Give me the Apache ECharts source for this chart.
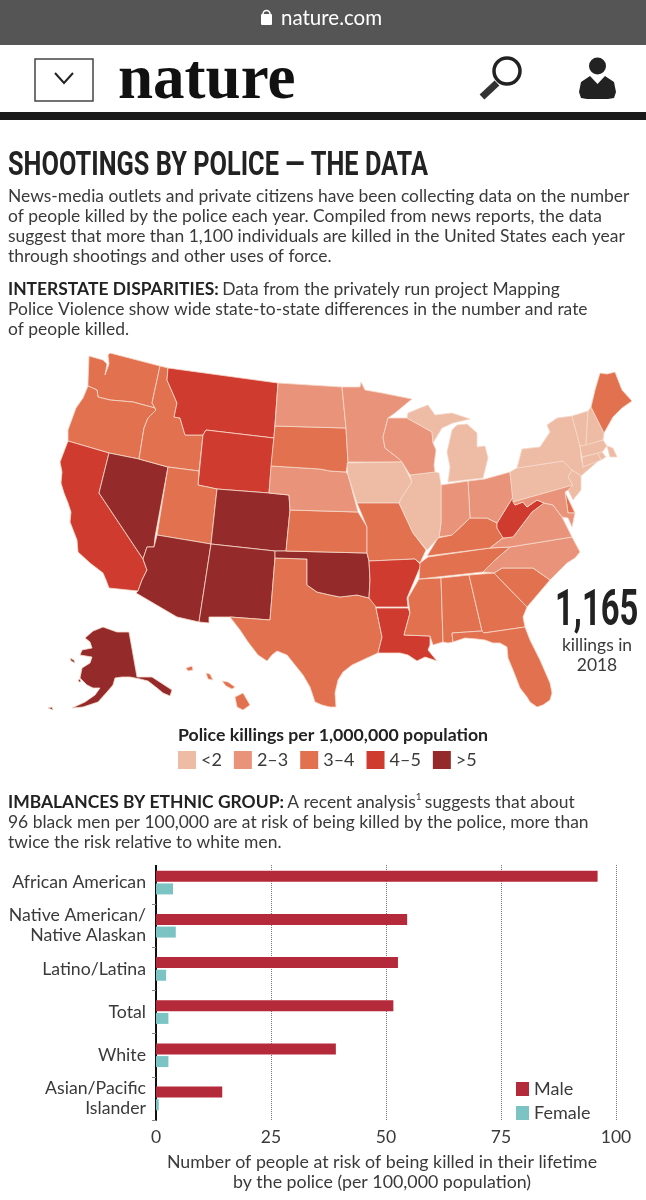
<!DOCTYPE html>
<html><head><meta charset="utf-8">
<style>html,body{margin:0;padding:0;background:#fff}#c{width:646px;height:1200px}</style>
<script src="https://cdn.jsdelivr.net/npm/echarts@6/dist/echarts.min.js"></script>
</head><body><div id="c"></div>
<script>
// ---------- data ----------
const classLabels = ['<2','2–3','3–4','4–5','>5'];
const classColors = ['#eebba4','#e9937a','#e2714f','#cf3b2e','#952a2a'];
const statesBelow2 = ['IA','IL','MI','PA','NY','NJ','VT','NH','MA','CT','RI'];
const states2to3 = ['ND','NE','MN','WI','IN','OH','VA','NC','MD'];
const states3to4 = ['WA','OR','ID','UT','HI','TX','KS','SD','MO','KY','TN','MS','AL','GA','FL','SC','ME','DE'];
const states4to5 = ['CA','MT','WY','AR','LA','WV'];
const statesAbove5 = ['AK','NV','AZ','NM','CO','OK'];

const groups = ['African American','Native American/\nNative Alaskan','Latino/Latina','Total','White','Asian/Pacific\nIslander'];
const maleRisk = [96,54.6,52.6,51.6,39.1,14.4];
const femaleRisk = [3.7,4.3,2.2,2.7,2.7,0.6];
const riskTicks = [0,25,50,75,100];

// base-map outlines (registered as a map, coloured through the series data)
const outlines = {
WA:['89,356 103,360 107,364 105,375 109,364 108,355 110,353 160,366 152,403 155,408 133,402 110,400 98,397 97,390 88,386 88,382'],
OR:['88,386 97,390 98,397 110,400 133,402 155,408 156,410 148,418 144,428 139,459 109,453 68,441 68,430 76,408 83,398'],
CA:['68,441 109,453 99,493 143,559 147,570 142,580 138,591 109,588 106,580 103,573 90,563 78,552 77,540 70,522 71,512 68,503 64,493 61,483 62,472 60,462'],
NV:['109,453 139,459 168,467 155,537 154,547 147,547 143,559 99,493'],
ID:['160,366 168,368 167,380 177,403 174,417 180,418 185,435 203,435 199,471 168,467 139,459 144,428 148,418 156,410 155,408 152,403'],
MT:['168,368 278,383 274,438 206,430 203,435 185,435 180,418 174,417 177,403 167,380'],
WY:['206,430 274,438 269,493 217,489 198,485 203,435'],
UT:['168,467 199,471 198,485 217,489 211,544 157,535'],
CO:['217,489 269,493 289,495 290,510 286,551 275,551 211,544'],
AZ:['157,535 211,544 199,622 177,617 136,593 138,591 142,580 147,570 143,559 147,547 154,547'],
NM:['211,544 275,551 275,558 270,620 230,617 209,617 209,623 199,622'],
TX:['275,558 307,559 307,585 317,592 330,595 340,597 357,595 369,598 374,602 376,608 382,637 378,653 367,658 352,665 343,672 338,680 335,693 336,707 330,707 322,705 315,702 312,693 310,687 303,675 295,665 287,655 277,651 272,655 267,661 258,655 248,642 240,630 230,617 270,620'],
OK:['275,551 286,551 367,553 369,561 370,580 369,598 357,595 340,597 330,595 317,592 307,585 307,559 275,558'],
KS:['290,510 358,512 367,527 367,553 286,551'],
NE:['271,466 320,469 330,471 346,472 348,475 358,512 290,510 289,495 269,493'],
SD:['275,426 346,428 348,462 347,463 346,472 330,471 320,469 271,466'],
ND:['278,383 342,387 346,428 275,426'],
MN:['342,387 360,387 361,382 365,390 382,393 412,399 395,413 388,418 383,437 385,448 398,458 402,462 348,462 346,428'],
IA:['347,463 402,462 412,482 402,497 399,503 357,503 348,475'],
MO:['357,503 399,503 413,533 426,550 420,563 415,559 369,561 367,553 367,527'],
AR:['369,561 415,559 421,565 407,598 408,607 376,607 369,598 370,580'],
LA:['376,608 408,608 410,613 404,635 430,636 430,645 428,650 437,661 425,657 417,661 408,655 400,653 378,653 382,637'],
MS:['419,579 441,578 443,642 433,645 430,636 404,635 410,613 408,598'],
AL:['441,578 469,575 482,631 452,633 453,642 448,643 443,642'],
GA:['469,575 494,573 527,607 523,617 525,627 484,633 482,631'],
FL:['452,633 482,631 484,633 525,627 530,640 540,660 550,683 552,693 550,700 543,705 537,707 530,702 527,697 520,688 515,675 513,670 508,658 507,647 500,643 493,643 485,640 477,639 465,638 453,642'],
SC:['494,573 502,568 533,568 550,580 527,607'],
NC:['483,572 495,560 510,547 572,537 580,552 575,558 567,563 558,572 550,580 533,568 502,568 494,573'],
TN:['428,557 490,548 510,547 495,560 483,572 419,579 420,563'],
KY:['427,556 438,538 452,535 470,518 487,518 497,523 497,528 503,538 490,548'],
VA:['490,548 503,538 513,537 532,512 544,503 553,505 562,517 572,537 510,547'],
WV:['497,523 513,497 515,505 523,502 527,507 537,500 544,503 532,512 513,537 503,538 497,528'],
OH:['468,481 485,479 510,472 513,497 497,523 487,518 470,518'],
IN:['441,485 468,481 470,518 452,535 439,537 441,523'],
IL:['410,475 435,472 439,473 441,485 441,523 439,537 427,550 426,550 413,533 399,503 402,497 412,482'],
WI:['388,418 407,418 432,432 433,443 436,450 434,465 435,472 410,475 402,462 398,458 385,448 383,437'],
MI:['407,418 408,413 420,408 428,405 435,415 452,413 470,419 453,423 442,428 433,443 432,432','448,482 450,467 447,452 452,430 457,425 467,424 477,433 477,447 485,446 488,458 483,478'],
PA:['510,472 517,468 563,461 572,470 568,477 573,485 513,502'],
NY:['517,468 522,449 540,447 550,432 547,425 557,418 572,416 580,446 581,457 583,467 597,460 597,462 581,476 572,470 563,461'],
NJ:['572,470 581,476 581,490 573,500 568,490 573,485 568,477'],
DE:['565,492 575,513 568,513'],
MD:['513,502 573,485 568,490 565,492 568,513 575,513 572,527 568,518 562,517 553,505 544,503 537,500 527,507 523,502 515,505'],
CT:['582,457 598,453 601,460 583,467'],
MA:['580,446 603,440 607,446 602,452 598,453 582,457','607,446 613,448 617,457 610,457'],
RI:['598,453 602,452 606,457 601,460'],
VT:['572,416 588,411 586,445 580,446'],
NH:['588,411 591,407 604,433 603,440 586,445'],
ME:['591,407 595,390 600,373 607,374 615,372 622,390 632,401 622,408 613,417 604,433'],
AK:['103,627 117,632 129,632 137,677 148,677 152,677 172,690 170,696 163,693 157,688 148,681 140,679 130,677 122,677 115,678 113,685 107,692 98,702 83,707 72,708 85,702 95,695 100,688 93,688 87,685 80,678 82,668 90,663 92,657 80,655 82,650 92,648 90,642 85,638 93,631','70,658 74,660 75,663 71,661','78,680 80,679 81,682 79,682','48,708 52,707 53,710'],
HI:['186,668 192,666 193,670 188,671','206,673 210,674 213,680 208,679','222,681 228,682 235,687 232,689 226,686','235,697 243,693 250,705 243,710 237,707']
};

// ---------- build ----------
const geo = {type:'FeatureCollection',features:Object.keys(outlines).map(k=>({
  type:'Feature',properties:{name:k},
  geometry:{type:'MultiPolygon',coordinates:outlines[k].map(s=>[s.split(' ').map(p=>{const a=p.split(',').map(Number);return [a[0],-a[1]];})])}
}))};
echarts.registerMap('usa',geo);

const stateClasses=[statesBelow2,states2to3,states3to4,states4to5,statesAbove5];
const mapData=[];stateClasses.forEach((l,i)=>l.forEach(n=>mapData.push({name:n,value:i})));

const BODY='Lato', INK='#3a3a3a', FS=17.45;
const line=(t,x,y,o={})=>({type:'text',x,y,silent:true,style:Object.assign({text:t,fontFamily:BODY,fontSize:FS,fill:INK,textVerticalAlign:'middle'},o)});
const squeezed=(t,x,y,sx,o)=>Object.assign(line(t,x,y,o),{scaleX:sx,originX:0});
const rich={b:{fontFamily:BODY,fontWeight:700,fontSize:FS,fill:'#222',lineHeight:20},s:{fontFamily:BODY,fontSize:10,fill:INK,verticalAlign:'top',lineHeight:20},r:{fontFamily:BODY,fontSize:FS,fill:INK,lineHeight:20}};

const graphics=[
 {type:'rect',shape:{x:0,y:0,width:646,height:45},style:{fill:'#555'},silent:true},
 {type:'rect',shape:{x:0,y:112,width:646,height:8},style:{fill:'#1a1a1a'},silent:true},
 {type:'rect',shape:{x:261,y:14,width:11,height:11,r:1},style:{fill:'#fff'},silent:true},
 {type:'arc',shape:{cx:266.5,cy:14,r:3.5,startAngle:Math.PI,endAngle:0},style:{stroke:'#fff',fill:'none',lineWidth:1.6},silent:true},
 line('nature.com',281,18,{fill:'#fff',fontSize:20.5}),
 {type:'rect',shape:{x:35,y:59,width:58,height:42},style:{fill:'#fff',stroke:'#444',lineWidth:1.5},silent:true},
 {type:'polyline',shape:{points:[[55,73],[64,83],[73,73]]},style:{stroke:'#222',fill:'none',lineWidth:2},silent:true},
 squeezed('nature',118,81,0.985,{fontFamily:'Liberation Serif',fontWeight:700,fontSize:64,fill:'#111'}),
 {type:'circle',shape:{cx:507,cy:71,r:13},style:{fill:'#fff',stroke:'#222',lineWidth:3.5},silent:true},
 {type:'line',shape:{x1:497,y1:83,x2:482,y2:97},style:{stroke:'#333',lineWidth:7},silent:true},
 {type:'circle',shape:{cx:597.5,cy:66,r:8.5},style:{fill:'#222'},silent:true},
 {type:'polygon',shape:{points:[[579,92],[581,82],[590,76],[597.5,84],[605,76],[614,82],[616,92],[614,98],[608,99],[587,99],[581,98]]},style:{fill:'#222'},silent:true},
 squeezed('SHOOTINGS BY POLICE — THE DATA',8,166,0.745,{fontFamily:'Roboto',fontWeight:700,fontSize:34,fill:'#222'}),
 line('News-media outlets and private citizens have been collecting data on the number',8,196),
 line('of people killed by the police each year. Compiled from news reports, the data',8,216),
 line('suggest that more than 1,100 individuals are killed in the United States each year',8,236),
 line('through shootings and other uses of force.',8,256),
 {type:'text',x:8,y:289,silent:true,style:{text:'{b|INTERSTATE DISPARITIES:} {r|Data from the privately run project Mapping}',rich,textVerticalAlign:'middle'}},
 line('Police Violence show wide state-to-state differences in the number and rate',8,309),
 line('of people killed.',8,329),
 squeezed('1,165',555,612,0.656,{fontFamily:'Roboto',fontWeight:700,fontSize:50,fill:'#222'}),
 line('killings in',597,645,{textAlign:'center'}),
 line('2018',597,665,{textAlign:'center'}),
 line('Police killings per 1,000,000 population',178,735,{fontWeight:700,fill:'#222',fontSize:17.7}),
 {type:'text',x:8,y:802,silent:true,style:{text:'{b|IMBALANCES BY ETHNIC GROUP:} {r|A recent analysis}{s|1} {r|suggests that about}',rich,textVerticalAlign:'middle'}},
 line('96 black men per 100,000 are at risk of being killed by the police, more than',8,822),
 line('twice the risk relative to white men.',8,842),
 {type:'rect',z:50,shape:{x:150,y:859,width:470,height:6},style:{fill:'#fff'},silent:true}
];

const chart=echarts.init(document.getElementById('c'),null,{width:646,height:1200,renderer:'canvas'});
chart.setOption({
 animation:false,
 backgroundColor:'#fff',
 graphic:graphics,
 visualMap:{type:'piecewise',seriesIndex:0,orient:'horizontal',left:178,top:751,padding:0,itemWidth:18,itemHeight:18,itemGap:12,textGap:5,
   align:'left',selectedMode:false,hoverLink:false,itemSymbol:'rect',
   textStyle:{fontFamily:BODY,fontSize:18,color:INK},
   pieces:classLabels.map((l,i)=>({value:i,label:l,color:classColors[i]}))},
 grid:{left:156,top:861,width:460,height:259},
 xAxis:{type:'value',min:0,max:100,interval:25,
   axisLine:{show:false},axisTick:{show:false},
   axisLabel:{fontFamily:BODY,fontSize:17.5,color:INK,margin:8,formatter:v=>riskTicks.includes(v)?String(v):''},
   splitLine:{show:true,lineStyle:{type:'dotted',color:'#777',width:1}},
   name:'Number of people at risk of being killed in their lifetime\nby the police (per 100,000 population)',
   nameLocation:'middle',nameGap:32,
   nameTextStyle:{fontFamily:BODY,fontSize:17.8,color:INK,lineHeight:20,padding:[0,8,0,0],verticalAlign:'top'}},
 yAxis:{type:'category',inverse:true,data:groups,
   axisLine:{show:true,lineStyle:{color:'#111',width:2}},
   axisTick:{show:true,length:4,alignWithLabel:false,interval:0,lineStyle:{color:'#888'}},
   axisLabel:{fontFamily:BODY,fontSize:17.7,color:INK,margin:10,lineHeight:20,align:'right',interval:0}},
 legend:{orient:'vertical',left:516,top:1080,padding:0,itemWidth:13,itemHeight:14,itemGap:6,icon:'rect',selectedMode:false,
   data:['Male','Female'],textStyle:{fontFamily:BODY,fontSize:18,color:INK}},
 series:[
  {type:'map',map:'usa',data:mapData,left:0,top:0,width:646,height:1200,aspectScale:1,showLegendSymbol:false,
   boundingCoords:[[0,0],[646,-1200]],roam:false,silent:true,selectedMode:false,
   label:{show:false},emphasis:{disabled:true},
   itemStyle:{borderColor:'#f5d9ca',borderWidth:0.8}},
  {type:'bar',name:'Male',data:maleRisk,barWidth:11,barGap:'15%',itemStyle:{color:'#b52a3a'},silent:true,z:3},
  {type:'bar',name:'Female',data:femaleRisk,barWidth:11,barGap:'15%',itemStyle:{color:'#7cc4c4'},silent:true,z:3}
 ]
});
</script></body></html>
